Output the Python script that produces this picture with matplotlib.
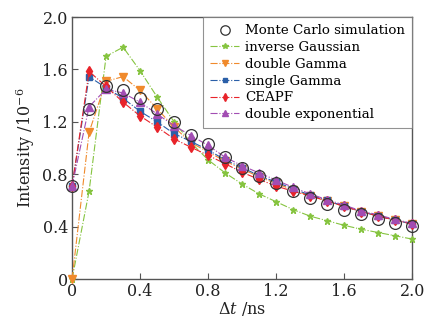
import matplotlib
matplotlib.use("Agg")
import matplotlib.pyplot as plt
import numpy as np

dt = [0.0, 0.1, 0.2, 0.3, 0.4, 0.5, 0.6, 0.7, 0.8, 0.9, 1.0,
      1.1, 1.2, 1.3, 1.4, 1.5, 1.6, 1.7, 1.8, 1.9, 2.0]

monte_carlo = [0.71, 1.30, 1.47, 1.44, 1.38, 1.295, 1.20, 1.10, 1.03, 0.93, 0.845,
               0.785, 0.73, 0.675, 0.615, 0.57, 0.53, 0.50, 0.46, 0.43, 0.405]
inverse_gaussian = [0.0, 0.67, 1.70, 1.77, 1.59, 1.39, 1.20, 1.04, 0.91, 0.81, 0.725,
                    0.65, 0.59, 0.53, 0.48, 0.445, 0.41, 0.38, 0.355, 0.33, 0.305]
double_gamma = [0.0, 1.12, 1.51, 1.545, 1.44, 1.30, 1.16, 1.04, 0.97, 0.90, 0.84,
                0.78, 0.73, 0.68, 0.635, 0.595, 0.555, 0.515, 0.48, 0.45, 0.42]
single_gamma = [0.71, 1.545, 1.46, 1.38, 1.28, 1.20, 1.11, 1.05, 0.985, 0.91, 0.85,
                0.79, 0.74, 0.69, 0.64, 0.60, 0.555, 0.515, 0.48, 0.45, 0.42]
ceapf = [0.71, 1.585, 1.47, 1.35, 1.245, 1.16, 1.07, 1.005, 0.945, 0.88, 0.815,
         0.76, 0.71, 0.67, 0.635, 0.595, 0.555, 0.515, 0.48, 0.45, 0.42]
double_exp = [0.71, 1.315, 1.45, 1.42, 1.35, 1.26, 1.17, 1.095, 1.02, 0.93, 0.865,
              0.81, 0.755, 0.70, 0.65, 0.605, 0.565, 0.52, 0.49, 0.455, 0.425]

ticks = [0.0, 0.4, 0.8, 1.2, 1.6, 2.0]
tick_labels = ["0", "0.4", "0.8", "1.2", "1.6", "2.0"]

plt.rcParams['font.family'] = ['DejaVu Serif']
plt.rcParams['mathtext.fontset'] = 'dejavuserif'

fig = plt.figure(figsize=(4.24, 3.22), dpi=100)
ax = fig.add_axes([0.170, 0.1335, 0.802, 0.8135])

lw = 0.8
ax.plot(dt, monte_carlo, linestyle='none', marker='o', markersize=8.5,
        markerfacecolor='none', markeredgecolor='#333333', markeredgewidth=0.9,
        label='Monte Carlo simulation', clip_on=False, zorder=5)
ax.plot(dt, inverse_gaussian, '-.', color='#86c440', lw=lw, marker='*', markersize=5,
        label='inverse Gaussian', clip_on=False, zorder=3)
ax.plot(dt, double_gamma, '-.', color='#f08a2c', lw=lw, marker='v', markersize=5.5,
        label='double Gamma', clip_on=False, zorder=3)
ax.plot(dt, single_gamma, '-.', color='#2b5fa8', lw=lw, marker='s', markersize=4,
        label='single Gamma', clip_on=False, zorder=3)
ax.plot(dt, ceapf, '-.', color='#e8232a', lw=lw, marker='d', markersize=5,
        label='CEAPF', clip_on=False, zorder=3)
ax.plot(dt, double_exp, '-.', color='#a24db3', lw=lw, marker='^', markersize=5.5,
        label='double exponential', clip_on=False, zorder=4)

ax.set_xlim(0, 2.0)
ax.set_ylim(0, 2.0)
ax.set_xticks(ticks)
ax.set_xticklabels(tick_labels)
ax.set_yticks(ticks)
ax.set_yticklabels(tick_labels)
ax.tick_params(direction='in', length=4, width=0.8, labelsize=11.5, colors='#555555',
               labelcolor='#222222', pad=3)

for s in ax.spines.values():
    s.set_color('#555555')
    s.set_linewidth(1.0)

ax.set_xlabel(r'$\Delta t$ /ns', fontsize=11.5, labelpad=0, color='#222222')
ax.set_ylabel(r'Intensity /10$^{-6}$', fontsize=11.5, labelpad=4, color='#222222')

leg = ax.legend(loc='upper right', bbox_to_anchor=(1.0, 1.0), fontsize=9.6,
                frameon=True, fancybox=False, edgecolor='#777777', borderaxespad=0,
                handlelength=2.2, handletextpad=0.4, labelspacing=0.28,
                borderpad=0.55, markerscale=0.8)
leg.get_frame().set_linewidth(0.8)

fig.savefig('out.png', dpi=100)
